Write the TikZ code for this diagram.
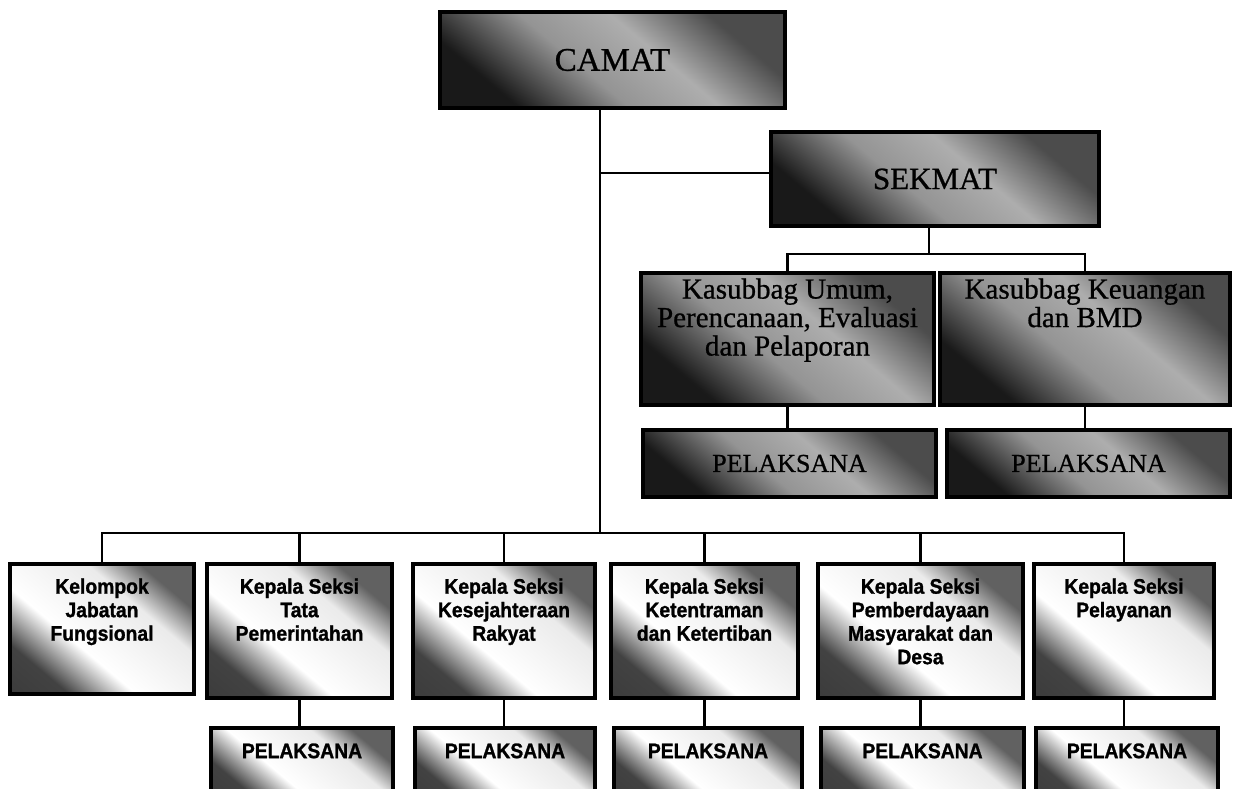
\documentclass[tikz,border=0pt]{standalone}
\usepackage{fontspec}
\setmainfont{Liberation Serif}
\newfontfamily\boxserif[FakeBold=0.8]{Liberation Serif}
\newfontfamily\boxsans[FakeStretch=0.92, FakeBold=1.2]{Liberation Sans}
\usetikzlibrary{calc}
\pgfdeclareverticalshading{topshade}{100bp}{color(0bp)=(black!90); color(27bp)=(black!90); color(44bp)=(black!42); color(58bp)=(black!32); color(73bp)=(black!70); color(100bp)=(black!70)}
\pgfdeclareverticalshading{lowshade}{100bp}{color(0bp)=(black!80); color(27bp)=(black!74); color(41bp)=(white); color(63bp)=(white!92!black); color(74bp)=(black!62); color(100bp)=(black!62)}
\begin{document}
\begin{tikzpicture}[x=1pt,y=-1pt,
  upbox/.style={draw=black, line width=3.5pt, shade, shading=topshade, shading angle=-40, inner sep=0pt},
  lowbox/.style={draw=black, line width=3.5pt, shade, shading=lowshade, shading angle=-40, inner sep=0pt},
  conn/.style={line width=2.6pt},
  kasub/.style={font=\boxserif\fontsize{29}{28.5}\selectfont, align=center, inner sep=0pt, anchor=north},
  lowtext/.style={font=\boxsans\bfseries\fontsize{21}{23.5}\selectfont, align=center, inner sep=0pt, anchor=north},
  uppel/.style={upbox, minimum height=67pt, font=\boxserif\fontsize{26}{28}\selectfont}]
\clip (0,0) rectangle (1233,788);
\fill[white] (0,0) rectangle (1233,788);

% top part
\node[upbox, minimum width=345pt, minimum height=96pt, font=\boxserif\fontsize{33}{36}\selectfont] (camat) at (612.5,60) {CAMAT};
\node[upbox, minimum width=328pt, minimum height=94pt, font=\boxserif\fontsize{31}{34}\selectfont] (sekmat) at (935,179) {SEKMAT};
\node[upbox, minimum width=293pt, minimum height=132pt] (ku) at (787.5,339) {};
\node[kasub] (kutext) at ($(ku.north)+(0,7)$) {Kasubbag Umum,\\Perencanaan, Evaluasi\\dan Pelaporan};
\node[upbox, minimum width=290pt, minimum height=132pt] (kk) at (1085,339) {};
\node[kasub] (kktext) at ($(kk.north)+(0,7)$) {Kasubbag Keuangan\\dan BMD};
\node[uppel, minimum width=293pt] (pu) at (789.5,463.5) {PELAKSANA};
\node[uppel, minimum width=283pt] (pk) at (1088.5,463.5) {PELAKSANA};

% bottom row
\node[lowbox, minimum width=184pt, minimum height=130pt] (b1) at (102,629) {};
\node[lowbox, minimum width=185pt, minimum height=134pt] (b2) at (299.5,631) {};
\node[lowbox, minimum width=182pt, minimum height=134pt] (b3) at (504,631) {};
\node[lowbox, minimum width=187pt, minimum height=134pt] (b4) at (704.5,631) {};
\node[lowbox, minimum width=205pt, minimum height=134pt] (b5) at (920.5,631) {};
\node[lowbox, minimum width=180pt, minimum height=134pt] (b6) at (1124,631) {};
\node[lowtext] (t1) at ($(b1.north)+(0,16)$) {Kelompok\\Jabatan\\Fungsional};
\node[lowtext] (t2) at ($(b2.north)+(0,16)$) {Kepala Seksi\\Tata\\Pemerintahan};
\node[lowtext] (t3) at ($(b3.north)+(0,16)$) {Kepala Seksi\\Kesejahteraan\\Rakyat};
\node[lowtext] (t4) at ($(b4.north)+(0,16)$) {Kepala Seksi\\Ketentraman\\dan Ketertiban};
\node[lowtext] (t5) at ($(b5.north)+(0,16)$) {Kepala Seksi\\Pemberdayaan\\Masyarakat dan\\Desa};
\node[lowtext] (t6) at ($(b6.north)+(0,16)$) {Kepala Seksi\\Pelayanan};

\node[lowbox, minimum width=182pt, minimum height=72pt] (p2) at (302,764) {};
\node[lowbox, minimum width=180pt, minimum height=72pt] (p3) at (505,764) {};
\node[lowbox, minimum width=188pt, minimum height=72pt] (p4) at (708,764) {};
\node[lowbox, minimum width=203pt, minimum height=72pt] (p5) at (922.5,764) {};
\node[lowbox, minimum width=182pt, minimum height=72pt] (p6) at (1127,764) {};
\foreach \i in {2,...,6}{
  \node[lowtext] (pt\i) at ($(p\i.north)+(0,17)$) {PELAKSANA};
}

% connectors
\coordinate (trunk) at (600,533);
\coordinate (sbranch) at (600,173);
\coordinate (sbus) at (929,254);
\draw[conn] (camat.south -| trunk) -- (trunk);
\draw[conn] (sbranch) -- (sbranch -| sekmat.west);
\draw[conn] (sekmat.south -| sbus) -- (sbus);
\draw[conn] (ku.north) |- (sbus) -| (kk.north);
\draw[conn] (ku.south) -- (ku.south |- pu.north);
\draw[conn] (kk.south) -- (kk.south |- pk.north);
\draw[conn] (b1.north) |- (trunk) -| (b6.north);
\foreach \i in {2,...,5}{
  \draw[conn] (b\i.north) -- (b\i.north |- trunk);
}
\foreach \i in {2,...,6}{
  \draw[conn] (b\i.south) -- (b\i.south |- p\i.north);
}
\end{tikzpicture}
\end{document}
